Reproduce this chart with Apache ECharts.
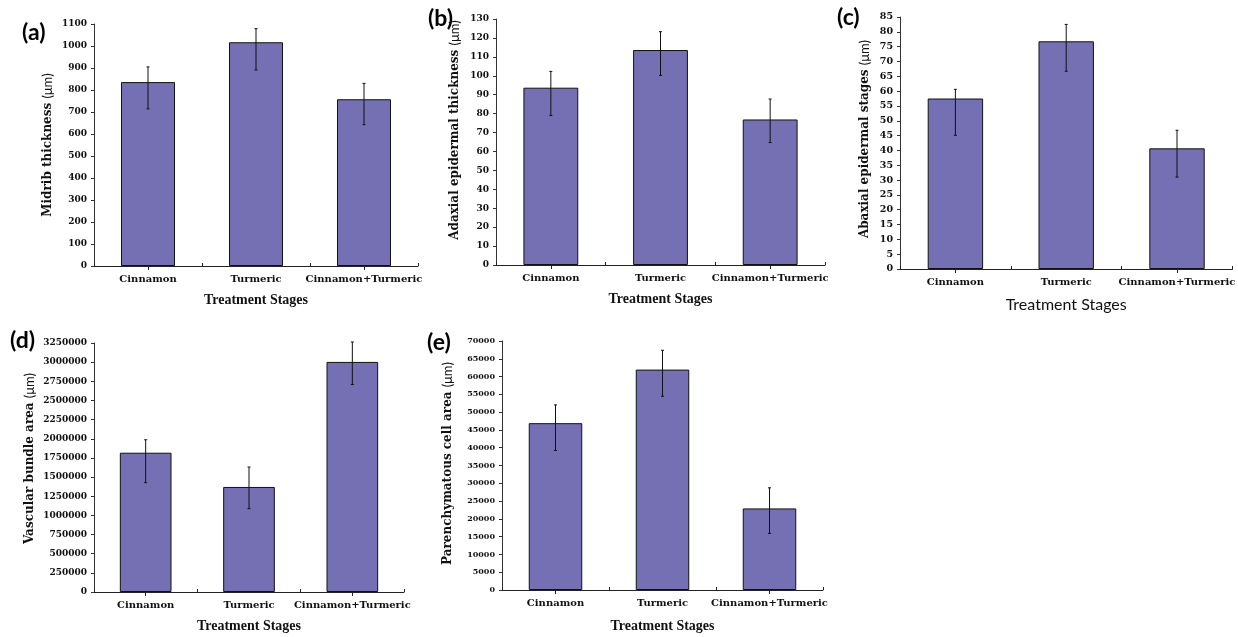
<!DOCTYPE html>
<html>
<head>
<meta charset="utf-8">
<script src="https://cdn.jsdelivr.net/npm/echarts/dist/echarts.min.js"></script>
<style>
  html, body { margin: 0; padding: 0; background: #fff; }
  #chart { width: 1238px; height: 637px; }
</style>
</head>
<body>
<div id="chart"></div>
<script>
// ---------- data ----------
const categories = ['Cinnamon', 'Turmeric', 'Cinnamon+Turmeric'];

const midribMean = [836, 1017, 758];
const midribLow  = [714, 891, 642];
const midribHigh = [905, 1079, 830];

const adaxialMean = [93.7, 113.6, 76.9];
const adaxialLow  = [79.0, 100.2, 64.7];
const adaxialHigh = [102.3, 123.3, 87.7];

const abaxialMean = [57.5, 76.8, 40.7];
const abaxialLow  = [45.1, 66.7, 31.0];
const abaxialHigh = [60.6, 82.5, 46.8];

const vascularMean = [1818000, 1371000, 3003000];
const vascularLow  = [1427000, 1088000, 2708000];
const vascularHigh = [1987000, 1631000, 3263000];

const parenchymaMean = [46900, 61960, 22930];
const parenchymaLow  = [39220, 54470, 15920];
const parenchymaHigh = [52030, 67390, 28730];

const panelLabels = ['(a)', '(b)', '(c)', '(d)', '(e)'];
const yTitles = ['Midrib thickness', 'Adaxial epidermal thickness', 'Abaxial epidermal stages',
                 'Vascular bundle area', 'Parenchymatous cell area'];
const unitLabel = '(\u03bcm)';
const xTitle = 'Treatment Stages';
const yMax  = [1100, 130, 85, 3250000, 70000];
const yStep = [100, 10, 5, 250000, 5000];

const means = [midribMean, adaxialMean, abaxialMean, vascularMean, parenchymaMean];
const lows  = [midribLow, adaxialLow, abaxialLow, vascularLow, parenchymaLow];
const highs = [midribHigh, adaxialHigh, abaxialHigh, vascularHigh, parenchymaHigh];

// ---------- layout (styling only) ----------
const grids = [
  { left: 94,  top: 24,  width: 324, height: 242 },
  { left: 496, top: 19,  width: 329, height: 246 },
  { left: 900, top: 17,  width: 335, height: 252 },
  { left: 94,  top: 343, width: 310, height: 249 },
  { left: 502, top: 341, width: 321, height: 249 }
];
const labelPos = [[22, 21], [428, 7], [837, 6], [10, 329], [427, 331]];
const yNameGap = [40, 35, 29, 58, 48];
const yNamePad = [0, 24, 8, 18, 4];
const yLabelSize = [9, 9, 9.5, 9, 8];
const xNameGap = [27, 27, 28, 27, 29];

const BAR = '#7570b3';
const INK = '#111';
const SERIF = '"DejaVu Serif", serif';
const TIMES = '"Liberation Serif", "Times New Roman", serif';

function errorRender(params, api) {
  const x = api.value(0);
  const pLo = api.coord([x, api.value(1)]);
  const pHi = api.coord([x, api.value(2)]);
  const cap = 1.5;
  const style = { stroke: '#111', lineWidth: 1 };
  return {
    type: 'group',
    children: [
      { type: 'line', shape: { x1: pLo[0], y1: pLo[1], x2: pHi[0], y2: pHi[1] }, style },
      { type: 'line', shape: { x1: pHi[0] - cap, y1: pHi[1], x2: pHi[0] + cap, y2: pHi[1] }, style },
      { type: 'line', shape: { x1: pLo[0] - cap, y1: pLo[1], x2: pLo[0] + cap, y2: pLo[1] }, style }
    ]
  };
}

const option = {
  animation: false,
  backgroundColor: '#fff',
  title: panelLabels.map((t, i) => ({
    text: t, left: labelPos[i][0], top: labelPos[i][1], padding: 0,
    textStyle: { fontFamily: 'Lato', fontWeight: 'bold', fontSize: 23, color: '#000' }
  })),
  grid: grids.map(g => Object.assign({ containLabel: false }, g)),
  xAxis: [],
  yAxis: [],
  series: []
};

for (let i = 0; i < 5; i++) {
  // main category axis: boundary ticks pointing inward + labels
  option.xAxis.push({
    type: 'category', gridIndex: i, data: categories, position: 'bottom',
    name: xTitle, nameLocation: 'middle', nameGap: xNameGap[i],
    nameTextStyle: i === 2
      ? { fontFamily: 'Lato', fontSize: 16, color: INK }
      : { fontFamily: TIMES, fontWeight: 'bold', fontSize: 14, color: INK },
    axisLine: { lineStyle: { color: '#222', width: 1 } },
    axisTick: { show: true, inside: true, length: 3, alignWithLabel: false, lineStyle: { color: '#222' } },
    axisLabel: { color: INK, fontFamily: SERIF, fontWeight: 'bold', fontSize: 10, margin: 8, interval: 0 },
    splitLine: { show: false }
  });
  // overlay axis: center ticks pointing outward
  option.xAxis.push({
    type: 'category', gridIndex: i, data: categories, position: 'bottom',
    axisLine: { show: false },
    axisTick: { show: true, inside: false, length: 4, alignWithLabel: true, lineStyle: { color: '#222' } },
    axisLabel: { show: false },
    splitLine: { show: false }
  });
  option.yAxis.push({
    type: 'value', gridIndex: i, min: 0, max: yMax[i], interval: yStep[i],
    name: '{b|' + yTitles[i] + ' }{u|' + unitLabel + '}',
    nameLocation: 'middle', nameGap: yNameGap[i],
    nameTextStyle: {
      padding: [0, 0, 0, yNamePad[i]],
      rich: {
        b: { fontFamily: SERIF, fontWeight: 'bold', fontSize: 12, color: INK },
        u: { fontFamily: 'Lato', fontSize: 13, color: INK }
      }
    },
    axisLine: { show: true, lineStyle: { color: '#333', width: 1 } },
    axisTick: { show: true, inside: false, length: 3, lineStyle: { color: '#333' } },
    axisLabel: {
      color: INK, fontFamily: SERIF, fontWeight: 'bold', fontSize: yLabelSize[i], margin: 7,
      formatter: v => String(v)
    },
    splitLine: { show: false }
  });
  option.series.push({
    type: 'bar', xAxisIndex: 2 * i, yAxisIndex: i, data: means[i],
    barCategoryGap: '50%',
    itemStyle: { color: BAR, borderColor: '#111', borderWidth: 1 },
    z: 2
  });
  option.series.push({
    type: 'custom', xAxisIndex: 2 * i, yAxisIndex: i,
    renderItem: errorRender,
    data: categories.map((c, k) => [k, lows[i][k], highs[i][k]]),
    z: 3
  });
}

const chart = echarts.init(document.getElementById('chart'), null, { renderer: 'canvas' });
chart.setOption(option);
</script>
</body>
</html>
